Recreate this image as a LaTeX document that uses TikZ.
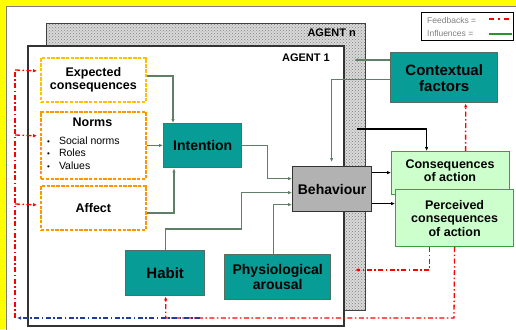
\documentclass[tikz,border=0pt]{standalone}
\usepackage{fontspec}
\setmainfont{Liberation Sans}
\usetikzlibrary{arrows.meta,patterns}
\definecolor{teal1}{RGB}{8,156,150}
\definecolor{tealbd}{RGB}{85,110,95}
\definecolor{infl}{RGB}{95,128,102}
\definecolor{lgreen}{RGB}{204,255,204}
\definecolor{gbd}{RGB}{60,160,60}
\definecolor{gold1}{RGB}{255,192,0}
\definecolor{orng}{RGB}{255,150,0}
\definecolor{ylw}{RGB}{255,255,0}
\definecolor{fbred}{RGB}{255,0,0}
\definecolor{fbblue}{RGB}{30,60,160}
\definecolor{leggreen}{RGB}{40,150,40}
\definecolor{behgray}{RGB}{178,178,178}
\tikzset{
  fs/.style={font=\fontsize{#1}{#1}\selectfont\bfseries},
  box/.style={anchor=north west, inner sep=0pt, align=center, text=black},
  tealbox/.style={box, fill=teal1, draw=tealbd, line width=1.4pt},
  orbox/.style={box, fill=white, draw=orng, line width=1.8pt, dash pattern=on 3.5pt off 1.3pt},
  grbox/.style={box, fill=lgreen, draw=gbd, line width=1.2pt},
  infline/.style={draw=infl, line width=1.3pt, -{Latex[length=4pt,width=3.5pt]}},
  blkline/.style={draw=black, line width=1.3pt, -{Latex[length=4pt,width=3.5pt]}},
  fbline/.style={draw=fbred, line width=1.3pt, dash pattern=on 5pt off 2.5pt on 1.5pt off 2.5pt, -{Latex[length=4pt,width=3.5pt]}},
  fbplain/.style={draw=fbred, line width=1.3pt, dash pattern=on 5pt off 2.5pt on 1.5pt off 2.5pt},
  blueline/.style={draw=fbblue, line width=1.3pt, dash pattern=on 5pt off 2.5pt on 1.5pt off 2.5pt, -{Latex[length=4pt,width=3.5pt]}},
  plain/.style={inner sep=0pt, text=black}
}
\begin{document}
\begin{tikzpicture}[x=1pt,y=-1pt]
\useasboundingbox (0,0) rectangle (516,329);
% background
\fill[ylw] (0,0) rectangle (516,329);
\filldraw[fill=white, draw=gray, line width=1pt] (6,7) rectangle (520,335);
% Agent n
\filldraw[fill=gray!30, draw=gray!50!black, line width=1pt] (46,24) rectangle (365,310);
\fill[pattern=crosshatch dots, pattern color=gray] (46,24) rectangle (365,310);
\draw[gray!50!black, line width=1pt] (46,24) rectangle (365,310);
\node[plain, fs=11, anchor=north east] (agn) at (356,29) {AGENT n};
% Agent 1
\filldraw[fill=white, draw=gray!40!black, line width=1.5pt] (28,46) rectangle (344,326);
\node[plain, fs=11, anchor=north east] (ag1) at (330,54) {AGENT 1};
% legend
\draw[black, line width=0.8pt, fill=white] (421,12) rectangle (513,40);
\node[plain, anchor=west, text=gray, font=\fontsize{8.5}{9}\selectfont] (lfb) at (427,20) {Feedbacks =};
\node[plain, anchor=west, text=gray, font=\fontsize{8.5}{9}\selectfont] (lin) at (427,33) {Influences =};
\coordinate (lfa) at (489,19);
\coordinate (lfb2) at (512,19);
\coordinate (lia) at (489,34);
\coordinate (lib) at (512,34);
\draw[fbred, line width=1.3pt, dash pattern=on 5pt off 4pt on 2pt off 4pt] (lfa) -- (lfb2);
\draw[leggreen, line width=1.3pt] (lia) -- (lib);
% boxes
\node[orbox, draw=gold1, minimum width=105pt, minimum height=44pt, fs=12.5] (exp) at (40,57) {Expected\\[1pt]consequences};
\node[orbox, minimum width=105pt, minimum height=67pt] (norms) at (40,111) {};
\node[plain, fs=12.5] (normsT) at (92.5,122) {Norms};
\node[plain, anchor=west, font=\fontsize{10.5}{11}\selectfont, align=left] (normsL) at (47,153) {{\fontsize{8}{8}\selectfont•}\hspace{9pt}Social norms\\[1.5pt]{\fontsize{8}{8}\selectfont•}\hspace{9pt}Roles\\[1.5pt]{\fontsize{8}{8}\selectfont•}\hspace{9pt}Values};
\node[orbox, minimum width=105pt, minimum height=44pt, fs=12.5] (affect) at (40,185) {Affect};
\node[tealbox, minimum width=78pt, minimum height=44pt, fs=14] (intention) at (163,123) {Intention};
\node[box, fill=behgray, draw=black!80, line width=1.2pt, minimum width=79pt, minimum height=45pt, fs=14] (behav) at (292,166) {Behaviour};
\node[tealbox, minimum width=79pt, minimum height=45pt, fs=15] (habit) at (125,250) {Habit};
\node[tealbox, minimum width=106pt, minimum height=45pt, fs=14] (phys) at (224,254) {Physiological\\[1pt]arousal};
\node[tealbox, minimum width=107pt, minimum height=50pt, fs=15] (context) at (390,52) {Contextual\\[1pt]factors};
\node[grbox, minimum width=118pt, minimum height=43pt] (cons) at (391,151) {};
\node[plain, fs=12.5, align=center] (consT) at (450,170.5) {Consequences\\[1pt]of action};
\node[grbox, minimum width=118pt, minimum height=57pt, fs=12.5] (perc) at (395,189) {Perceived\\[1pt]consequences\\[1pt]of action};
% influences
\draw[infline] ([yshift=4pt]exp.east) -| ([xshift=10pt]intention.north west);
\draw[infline] (norms.east) -- (norms.east -| intention.west);
\draw[infline] ([yshift=-5pt]affect.east) -| ([xshift=11pt]intention.south west);
\draw[infline] (intention.east) -- ++(25,0) |- ([yshift=10.5pt]behav.west);
\draw[infline] (habit.north) -- ++(0,-21) -- ++(76,0) |- ([yshift=-3.5pt]behav.west);
\draw[infline] ([xshift=-4pt]phys.north) |- ([yshift=-15.5pt]behav.west);
\coordinate (ctxend) at (354,60);
\draw[infline] (context.west |- ctxend) -- (ctxend);
\draw[infline] ([yshift=-2pt]context.west) -| ([xshift=-0.5pt,yshift=4pt]behav.north);
% behaviour outputs
\coordinate (bs) at (357,129);
\draw[blkline] (bs) -| ([xshift=-24pt]cons.north);
\draw[blkline] ([yshift=16.5pt]behav.east) -- ([yshift=16.5pt]behav.east -| cons.west);
\draw[blkline] ([yshift=-14.5pt]behav.east) -- ([yshift=-14.5pt]behav.east -| perc.west);
% feedbacks
\draw[fbline] ([xshift=15pt]cons.north) -- ([xshift=21.5pt]context.south);
\coordinate (fbn) at (355,270);
\draw[fbline] ([xshift=-25pt]perc.south) |- (fbn);
\coordinate (fbc) at (454,318);
\draw[fbline] (perc.south) -- (fbc) -| ([xshift=0.5pt]habit.south);
\coordinate (bl1) at (200,318);
\coordinate (bl2) at (17,318);
\draw[blueline] (bl1) -- (bl2);
\coordinate (lv) at (15,318);
\coordinate (lt) at (15,70);
\draw[fbplain] (lv) -- (lt);
\draw[fbline] (lt) -- ([xshift=-3pt,yshift=9pt]exp.west);
\draw[fbline] (lt |- 0,135) -- ([xshift=-3pt,yshift=9.5pt]norms.west);
\draw[fbline] (lt |- 0,204) -- ([xshift=-3pt,yshift=3pt]affect.west);
\end{tikzpicture}
\end{document}
